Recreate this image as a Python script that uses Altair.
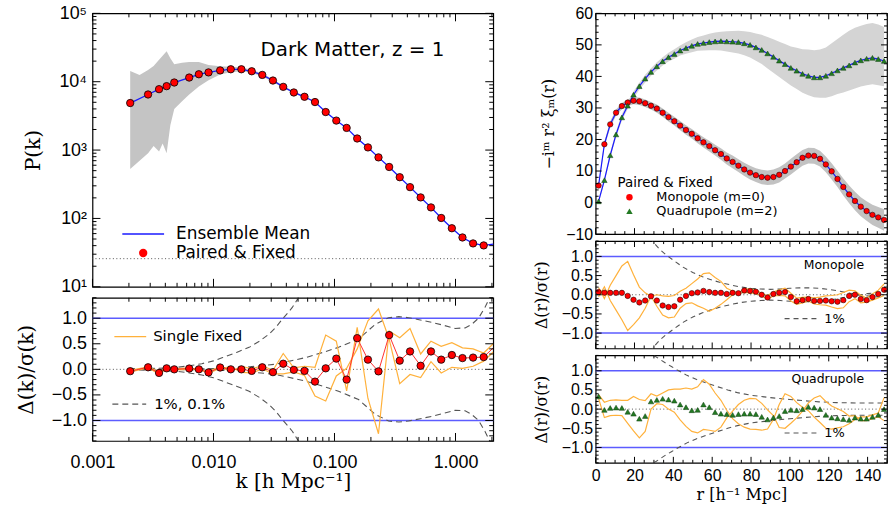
import altair as alt
import pandas as pd

# ===================== DATA =====================
# ---- left: power spectrum P(k) ----
K_PF = [0.00205, 0.00288, 0.00355, 0.0041, 0.00474, 0.0063, 0.00757, 0.0091, 0.01135, 0.0139,
        0.017, 0.0207, 0.0253, 0.031, 0.0377, 0.0461, 0.0565, 0.069, 0.0846, 0.1035,
        0.126, 0.154, 0.189, 0.231, 0.283, 0.346, 0.421, 0.515, 0.627, 0.762,
        0.933, 1.142, 1.397, 1.71]
PK_PF = [4875, 6505, 7780, 8610, 9730, 11500, 12850, 13680, 14620, 15200,
         15200, 14210, 12570, 10400, 8410, 6960, 6020, 5040, 3600, 2700,
         2110, 1478, 1093, 782, 566, 401, 287, 203, 145, 101.6,
         71.9, 52.7, 43.1, 40.3]
K_LINE = [0.00205, 0.00288, 0.00355, 0.0041, 0.00474, 0.0063, 0.00757, 0.0091, 0.01135, 0.0139,
          0.017, 0.0207, 0.0253, 0.031, 0.0377, 0.0461, 0.0565, 0.069, 0.0846, 0.1035,
          0.126, 0.154, 0.189, 0.231, 0.283, 0.346, 0.421, 0.515, 0.627, 0.762,
          0.933, 1.142, 1.397, 1.71, 2.05]
PK_MEAN = [4875, 6505, 7780, 8610, 9730, 11500, 12850, 13680, 14620, 15200,
           15200, 14210, 12570, 10400, 8410, 6960, 6020, 5040, 3600, 2700,
           2110, 1478, 1093, 782, 566, 401, 287, 203, 145, 101.6,
           71.9, 52.7, 43.1, 40.3, 42.0]
K_BAND = [0.00205, 0.00245, 0.00288, 0.0032, 0.00355, 0.0038, 0.0041, 0.0044, 0.00474, 0.0055,
          0.0063, 0.00757, 0.0091, 0.01135, 0.0139, 0.017, 0.0207, 0.0253, 0.031, 0.0377,
          0.0461, 0.0565]
PK_HI = [14300, 12500, 14800, 17000, 21000, 24000, 28000, 22000, 18000, 19000,
         19500, 19500, 17500, 16800, 16500, 16200, 15000, 13200, 10900, 8750,
         7200, 6200]
PK_LO = [530, 700, 900, 1150, 950, 1250, 900, 2300, 4000, 5200,
         6500, 8500, 10500, 12700, 13800, 14200, 13400, 11900, 9900, 8100,
         6720, 5840]
SHOT_NOISE = [25.8]

# ---- left: residuals ----
RES_PF = [-0.036, 0.04, -0.07, 0.02, 0.0, 0.016, 0.0, -0.06, 0.036, 0.0,
          0.0, -0.03, 0.04, -0.055, 0.11, -0.01, -0.03, -0.24, 0.02, 0.21,
          -0.2, 0.61, 0.19, -0.04, 0.67, 0.17, 0.35, 0.07, 0.35, 0.19,
          0.28, 0.22, 0.23, 0.24]
RES_LINE = [-0.036, 0.04, -0.07, 0.02, 0.0, 0.016, 0.0, -0.06, 0.036, 0.0,
            0.0, -0.03, 0.04, -0.055, 0.11, -0.01, -0.03, -0.24, 0.02, 0.21,
            -0.2, 0.61, 0.19, -0.04, 0.67, 0.17, 0.35, 0.07, 0.35, 0.19,
            0.28, 0.22, 0.23, 0.24, 0.42]
SF_A = [-0.02, 0.05, -0.05, 0.03, 0.01, 0.03, -0.03, -0.04, 0.05, -0.05,
        0.06, 0.01, 0.07, -0.02, 0.31, 0.03, 0.06, 0.04, 0.67, 0.55,
        -0.42, 0.82, -0.57, -1.26, 0.75, 0.62, 0.80, 0.30, 0.55, 0.45,
        0.52, 0.42, 0.40, 0.32, 0.50]
SF_B = [-0.05, 0.03, -0.09, 0.01, -0.01, 0.0, 0.03, -0.08, 0.02, 0.05,
        -0.06, -0.07, 0.01, -0.09, -0.09, -0.05, -0.12, -0.52, -0.62, -0.13,
        0.02, 0.40, 0.95, 1.18, 0.59, -0.28, -0.10, -0.16, 0.15, -0.07,
        0.04, 0.02, 0.06, 0.16, 0.34]
D1_K = [0.002, 0.0035, 0.005, 0.0063, 0.008, 0.01, 0.0119, 0.0155, 0.0197, 0.024,
        0.0288, 0.033, 0.037, 0.041, 0.0448, 0.0525, 0.06]
D1_V = [0.01, 0.02, 0.04, 0.07, 0.11, 0.165, 0.23, 0.33, 0.43, 0.55,
        0.69, 0.83, 0.98, 1.1, 1.21, 1.47, 1.7]
D1_VN = [-0.01, -0.02, -0.04, -0.07, -0.11, -0.165, -0.23, -0.33, -0.43, -0.55,
         -0.69, -0.83, -0.98, -1.1, -1.21, -1.47, -1.7]
D01_K = [0.002, 0.005, 0.0105, 0.02, 0.0327, 0.0577, 0.08, 0.108, 0.158, 0.217,
         0.28, 0.34, 0.409, 0.5, 0.636, 0.8, 0.99, 1.2, 1.36, 1.55,
         1.75, 1.98, 2.1]
D01_V = [0.001, 0.004, 0.015, 0.05, 0.10, 0.23, 0.33, 0.43, 0.59, 0.88,
         1.01, 1.03, 1.01, 0.97, 0.92, 0.86, 0.80, 0.81, 0.88, 1.0,
         1.21, 1.47, 1.6]
D01_VN = [-0.001, -0.004, -0.015, -0.05, -0.10, -0.23, -0.33, -0.43, -0.59, -0.88,
          -1.01, -1.03, -1.01, -0.97, -0.92, -0.86, -0.80, -0.81, -0.88, -1.0,
          -1.21, -1.47, -1.6]

# ---- right: correlation function multipoles ----
R = [1.5, 4.5, 7.5, 10.5, 13.5, 16.5, 19.5, 22.5, 25.5, 28.5,
     31.5, 34.5, 37.5, 40.5, 43.5, 46.5, 49.5, 52.5, 55.5, 58.5,
     61.5, 64.5, 67.5, 70.5, 73.5, 76.5, 79.5, 82.5, 85.5, 88.5,
     91.5, 94.5, 97.5, 100.5, 103.5, 106.5, 109.5, 112.5, 115.5, 118.5,
     121.5, 124.5, 127.5, 130.5, 133.5, 136.5, 139.5, 142.5, 145.5, 148.5]
XI0 = [5.4, 18.5, 24.8, 28.5, 30.6, 31.7, 32.3, 32.1, 31.5, 30.7,
       29.8, 28.5, 27.1, 25.8, 24.4, 23.0, 21.8, 20.4, 19.1, 17.9,
       16.6, 15.4, 14.0, 12.9, 11.7, 10.5, 9.5, 8.7, 8.1, 7.9,
       8.1, 8.8, 10.0, 11.4, 12.8, 14.2, 14.9, 14.8, 13.9, 12.1,
       9.9, 7.5, 4.95, 2.6, 0.5, -1.3, -2.7, -3.9, -4.7, -5.5]
XI2 = [0.4, 7.1, 15.0, 21.6, 27.0, 30.7, 34.2, 36.9, 39.3, 41.4,
       43.2, 44.8, 46.1, 47.1, 48.2, 49.0, 49.7, 50.3, 50.6, 50.9,
       51.1, 51.2, 51.1, 51.0, 50.9, 50.5, 50.0, 49.2, 48.4, 47.3,
       46.2, 45.0, 43.9, 42.7, 41.8, 40.8, 40.2, 39.7, 39.7, 40.2,
       41.0, 41.9, 42.7, 43.5, 44.4, 45.1, 45.6, 45.9, 45.5, 44.9]
XI0_SPREAD = [0.7, 0.9, 1.0, 1.0, 1.0, 1.1, 1.1, 1.2, 1.2, 1.2,
              1.3, 1.3, 1.4, 1.4, 1.5, 1.5, 1.5, 1.6, 1.6, 1.7,
              1.7, 1.8, 1.9, 2.0, 2.0, 2.1, 2.2, 2.2, 2.3, 2.3,
              2.4, 2.4, 2.4, 2.5, 2.5, 2.5, 2.5, 2.5, 2.5, 2.5,
              2.6, 2.6, 2.7, 2.8, 2.9, 3.0, 3.1, 3.2, 3.3, 3.4]
XI2_SPREAD_UP = [0.6, 0.8, 0.9, 1.0, 1.0, 1.0, 1.1, 1.1, 1.2, 1.2,
                 1.3, 1.3, 1.4, 1.5, 1.6, 1.8, 2.0, 2.2, 2.4, 2.6,
                 2.8, 3.0, 3.2, 3.4, 3.6, 3.8, 4.1, 4.4, 4.8, 5.2,
                 5.6, 6.0, 6.4, 6.8, 7.3, 7.8, 8.3, 8.6, 8.8, 9.0,
                 9.5, 10.0, 10.5, 11.0, 11.0, 11.0, 11.0, 11.0, 11.0, 10.8]
XI2_SPREAD_DN = [0.6, 0.8, 0.9, 1.0, 1.0, 1.0, 1.1, 1.1, 1.2, 1.2,
                 1.3, 1.3, 1.4, 1.5, 1.6, 1.8, 2.0, 2.2, 2.4, 2.6,
                 2.8, 3.0, 3.2, 3.4, 3.6, 3.8, 4.0, 4.2, 4.5, 4.8,
                 5.0, 5.2, 5.4, 5.6, 5.8, 6.0, 6.2, 6.3, 6.5, 7.0,
                 7.3, 7.5, 7.8, 8.0, 8.2, 8.3, 8.4, 8.4, 8.3, 8.0]
RES0 = [0.07, 0.055, 0.05, 0.05, 0.05, -0.03, -0.13, -0.2, -0.15, -0.04,
        -0.15, -0.28, -0.32, -0.30, -0.13, -0.03, 0.04, 0.06, 0.1, 0.07,
        0.05, 0.05, 0.02, 0.05, 0.04, 0.11, 0.1, 0.08, 0.0, -0.07,
        0.02, 0.055, 0.07, -0.06, -0.17, -0.14, -0.11, -0.16, -0.16, -0.15,
        -0.17, -0.18, -0.14, -0.03, 0.0, -0.11, -0.14, -0.06, 0.02, 0.13]
SF0_A = [0.19, -0.10, 0.25, 0.50, 0.75, 0.87, 0.52, 0.20, 0.05, -0.04,
         -0.30, -0.53, -0.60, -0.58, -0.35, -0.23, -0.21, -0.29, -0.35, -0.43,
         -0.35, -0.25, -0.13, 0.0, 0.04, 0.16, 0.15, 0.13, 0.03, -0.02,
         0.07, 0.13, 0.17, 0.04, -0.09, -0.07, -0.06, -0.08, -0.06, -0.03,
         -0.02, 0.0, 0.06, 0.12, 0.10, -0.01, -0.09, 0.02, 0.12, 0.28]
SF0_B = [-0.05, 0.21, -0.15, -0.40, -0.65, -0.93, -0.78, -0.60, -0.35, -0.04,
         0.0, -0.03, -0.04, -0.02, 0.09, 0.17, 0.29, 0.41, 0.55, 0.57,
         0.45, 0.35, 0.17, 0.10, 0.04, 0.06, 0.05, 0.03, -0.03, -0.12,
         -0.03, -0.02, -0.03, -0.16, -0.25, -0.21, -0.16, -0.24, -0.26, -0.27,
         -0.32, -0.36, -0.34, -0.18, -0.10, -0.21, -0.19, -0.14, -0.08, -0.02]
RES2 = [0.33, -0.02, 0.03, 0.04, 0.03, -0.07, -0.12, -0.25, -0.18, 0.2,
        0.24, 0.27, 0.25, 0.22, 0.12, 0.05, -0.03, -0.02, 0.12, 0.05,
        -0.08, -0.12, -0.13, -0.15, -0.13, -0.12, -0.12, -0.13, -0.2, -0.27,
        -0.22, -0.18, -0.05, -0.02, -0.03, 0.0, 0.06, 0.04, 0.0, -0.15,
        -0.22, -0.24, -0.26, -0.28, -0.22, -0.25, -0.25, -0.2, -0.15, 0.0]
SF2_A = [0.38, 0.18, 0.23, 0.24, 0.23, 0.23, 0.33, 0.25, 0.22, 0.40,
         0.34, 0.42, 0.50, 0.52, 0.52, 0.55, 0.52, 0.58, 0.77, 0.65,
         0.42, 0.23, -0.03, -0.25, -0.38, -0.47, -0.52, -0.53, -0.55, -0.52,
         -0.27, 0.12, 0.40, 0.33, 0.17, 0.05, -0.04, -0.21, -0.35, -0.50,
         -0.52, -0.49, -0.46, -0.38, -0.27, -0.20, -0.20, -0.15, -0.10, 0.30]
SF2_B = [0.28, -0.22, -0.17, -0.16, -0.17, -0.37, -0.57, -0.75, -0.58, 0.0,
         0.14, 0.12, 0.0, -0.08, -0.28, -0.45, -0.58, -0.62, -0.53, -0.55,
         -0.58, -0.47, -0.23, -0.05, 0.12, 0.23, 0.28, 0.27, 0.15, -0.02,
         -0.17, -0.48, -0.50, -0.37, -0.23, -0.05, 0.16, 0.29, 0.35, 0.20,
         0.08, 0.01, -0.06, -0.18, -0.17, -0.30, -0.30, -0.25, -0.20, -0.30]
D0_R = [28, 30, 33, 36, 40, 45, 50, 55, 60, 65, 70, 75, 80, 85, 90, 95, 100, 105,
        110, 115, 120, 125, 130, 135, 140, 145, 150]
D0_V = [1.5, 1.35, 1.18, 1.05, 0.9, 0.72, 0.58, 0.47, 0.38, 0.31, 0.25, 0.2, 0.17, 0.15,
        0.14, 0.15, 0.17, 0.18, 0.18, 0.17, 0.14, 0.1, 0.05, 0.01, -0.03, -0.06, -0.08]
D0_VN = [-1.5, -1.35, -1.18, -1.05, -0.9, -0.72, -0.58, -0.47, -0.38, -0.31, -0.25, -0.2, -0.17, -0.15,
         -0.14, -0.15, -0.17, -0.18, -0.18, -0.17, -0.14, -0.1, -0.05, -0.01, 0.03, 0.06, 0.08]
D2_R = [30, 33, 36, 39, 42, 47, 52, 57.6, 63, 68, 73, 80, 90, 100, 107, 115, 124, 135, 150]
D2_V = [1.4, 1.3, 1.2, 1.11, 1.02, 0.88, 0.77, 0.67, 0.58, 0.5, 0.43, 0.36, 0.30, 0.25,
        0.22, 0.19, 0.17, 0.16, 0.16]
D2_VN = [-1.4, -1.3, -1.2, -1.11, -1.02, -0.88, -0.77, -0.67, -0.58, -0.5, -0.43, -0.36, -0.30, -0.25,
         -0.22, -0.19, -0.17, -0.16, -0.16]
UNIT_LINES = [1.0, -1.0]
ZERO_LINE = [0.0]

# tick positions
LOGK_MAJ = [0.001, 0.01, 0.1, 1.0]
LOGK_MIN = [m * 10.0 ** e for e in (-3, -2, -1) for m in range(2, 10)] + [2.0]
LOGP_MAJ = [10, 100, 1000, 10000, 100000]
LOGP_MIN = [m * 10 ** e for e in (1, 2, 3, 4) for m in range(2, 10)]
RES_MAJ = [-1.0, -0.5, 0.0, 0.5, 1.0]
RES_MIN = [v / 10 for v in range(-14, 15) if v % 5 != 0]
R_MAJ = list(range(0, 141, 20))
R_MIN = [v for v in range(5, 151, 5) if v % 20 != 0]
XI_MAJ = list(range(-10, 61, 10))
XI_MIN = [v for v in range(-10, 61, 2) if v % 10 != 0]

# ===================== STYLE =====================
SANS = "Liberation Sans"
LEG = "DejaVu Sans"
SERIF = "DejaVu Serif"
BLUE = "#1a1aff"
LBLUE = "#5c5cff"
RED = "#ff0000"
ORANGE = "#ffb13b"
DASH = "#555555"
GREEN = "#237a23"


def one():
    return pd.DataFrame({"o": [0]})


def txt(x, y, s, size, align="left", font=LEG):
    return alt.Chart(one()).mark_text(
        text=s, align=align, baseline="middle", font=font, fontSize=size, color="black"
    ).encode(x=alt.value(x), y=alt.value(y))


def seg(x1, x2, y, color, dash=None, width=1.3):
    kw = dict(color=color, strokeWidth=width)
    if dash:
        kw["strokeDash"] = dash
    return alt.Chart(one()).mark_rule(**kw).encode(x=alt.value(x1), x2=alt.value(x2), y=alt.value(y))


def sym(x, y, shape, color, size):
    return alt.Chart(one()).mark_point(shape=shape, filled=True, color=color, size=size, opacity=1).encode(
        x=alt.value(x), y=alt.value(y))


def yaxis(title, values, fmt=None, expr=None, left=True, tpad=None):
    kw = dict(values=values, title=title, titleFont=SERIF, titleFontWeight="normal",
              titleColor="black", labelColor="black", labelFont=SANS,
              ticks=False, domain=False, grid=False, labelOverlap=False)
    if left:
        kw.update(titleFontSize=20, labelFontSize=18, labelPadding=6,
                  minExtent=40, maxExtent=40, titlePadding=9)
    else:
        kw.update(titleFontSize=16, labelFontSize=16, labelPadding=3,
                  minExtent=33, maxExtent=33, titlePadding=9)
    if tpad is not None:
        kw["titlePadding"] = tpad
    if fmt:
        kw["format"] = fmt
    if expr:
        kw["labelExpr"] = expr
    return alt.Axis(**kw)


def xaxis(title, values, fmt, left=True):
    kw = dict(values=values, format=fmt, title=title, titleFont=SERIF, titleFontWeight="normal",
              titleColor="black", labelColor="black", labelFont=SANS, ticks=False, domain=False,
              grid=False, labelFlush=False, labelOverlap=False)
    if left:
        kw.update(titleFontSize=20, labelFontSize=18, labelPadding=13, titlePadding=0)
    else:
        kw.update(titleFontSize=16, labelFontSize=16, labelPadding=5, titlePadding=3)
    return alt.Axis(**kw)


class Panel:
    """Holds the scales/axes of one panel so every layer shares identical definitions."""

    def __init__(self, xf, yf, xsc, ysc, xax, yax):
        self.xf, self.yf, self.xsc, self.ysc, self.xax, self.yax = xf, yf, xsc, ysc, xax, yax

    def X(self, field=None):
        return alt.X(f"{field or self.xf}:Q", scale=self.xsc, axis=self.xax)

    def Y(self, field=None):
        return alt.Y(f"{field or self.yf}:Q", scale=self.ysc, axis=self.yax)

    def line(self, xs, ys, color, width=1.2, dash=None, clip=True):
        kw = dict(color=color, strokeWidth=width, clip=clip)
        if dash:
            kw["strokeDash"] = dash
        d = pd.DataFrame({self.xf: xs, self.yf: ys})
        return alt.Chart(d).mark_line(**kw).encode(x=self.X(), y=self.Y())

    def points(self, xs, ys, shape, color, stroke, sw, size):
        d = pd.DataFrame({self.xf: xs, self.yf: ys})
        return alt.Chart(d).mark_point(shape=shape, filled=True, color=color, stroke=stroke,
                                       strokeWidth=sw, size=size, opacity=1).encode(
            x=self.X(), y=self.Y())

    def hrule(self, vals, color, width=1.0, dash=None):
        kw = dict(color=color, strokeWidth=width)
        if dash:
            kw["strokeDash"] = dash
        d = pd.DataFrame({self.yf: vals})
        return alt.Chart(d).mark_rule(**kw).encode(y=self.Y())

    def ticks(self, xmaj, xmin, ymaj, ymin, W, H, LM, Lm):
        out = []
        for vals, L in ((xmaj, LM), (xmin, Lm)):
            d = pd.DataFrame({self.xf: vals})
            out.append(alt.Chart(d).mark_rule(color="black", strokeWidth=1).encode(
                x=self.X(), y=alt.value(H), y2=alt.value(H - L)))
            out.append(alt.Chart(d).mark_rule(color="black", strokeWidth=1).encode(
                x=self.X(), y=alt.value(0), y2=alt.value(L)))
        for vals, L in ((ymaj, LM), (ymin, Lm)):
            d = pd.DataFrame({self.yf: vals})
            out.append(alt.Chart(d).mark_rule(color="black", strokeWidth=1).encode(
                y=self.Y(), x=alt.value(0), x2=alt.value(L)))
            out.append(alt.Chart(d).mark_rule(color="black", strokeWidth=1).encode(
                y=self.Y(), x=alt.value(W), x2=alt.value(W - L)))
        return out


# ===================== LEFT TOP =====================
WL, HLT, HLB = 403, 275, 144
xk = alt.Scale(type="log", domain=[0.001, 2.05], nice=False)
yP = alt.Scale(type="log", domain=[10, 100000], nice=False)
yR = alt.Scale(domain=[-1.4, 1.4], nice=False, zero=False)

sup = ("datum.value == 10 ? '10\u00b9' : datum.value == 100 ? '10\u00b2' : "
       "datum.value == 1000 ? '10\u00b3' : datum.value == 10000 ? '10\u2074' : '10\u2075'")

LT = Panel("k", "P", xk, yP, None, yaxis("P(k)", LOGP_MAJ, expr=sup, tpad=9))
band = alt.Chart(pd.DataFrame({"k": K_BAND, "P": PK_HI, "P2": PK_LO})).mark_area(
    color="#c4c4c4", opacity=1).encode(x=LT.X(), y=LT.Y(), y2="P2:Q")

lt = alt.layer(
    band,
    LT.hrule(SHOT_NOISE, DASH, 1, [1, 2.5]),
    LT.line(K_LINE, PK_MEAN, BLUE, 1.3, clip=False),
    LT.points(K_PF, PK_PF, "circle", RED, "black", 0.8, 55),
    *LT.ticks(LOGK_MAJ, LOGK_MIN, LOGP_MAJ, LOGP_MIN, WL, HLT, 8, 4),
    seg(30, 72, 222, BLUE, width=1.5), txt(84, 222, "Ensemble Mean", 17),
    sym(51, 241, "circle", RED, 70), txt(84, 241, "Paired & Fixed", 17),
    txt(169, 37, "Dark Matter, z = 1", 20),
).properties(width=WL, height=HLT)

# ===================== LEFT BOTTOM =====================
LB = Panel("k", "v", xk, yR, xaxis("k [h Mpc\u207b\u00b9]", LOGK_MAJ, ".3f"),
           yaxis("\u0394(k)/\u03c3(k)", RES_MAJ, fmt=".1f", tpad=16))
lb = alt.layer(
    LB.hrule(UNIT_LINES, LBLUE, 1.5),
    LB.hrule(ZERO_LINE, DASH, 1, [1, 2.5]),
    LB.line(D1_K, D1_V, DASH, 1.1, dash=[6, 4]),
    LB.line(D1_K, D1_VN, DASH, 1.1, dash=[6, 4]),
    LB.line(D01_K, D01_V, DASH, 1.1, dash=[6, 4]),
    LB.line(D01_K, D01_VN, DASH, 1.1, dash=[6, 4]),
    LB.line(K_LINE, SF_A, ORANGE, 1.2),
    LB.line(K_LINE, SF_B, ORANGE, 1.2),
    LB.line(K_LINE, RES_LINE, "#ff3030", 1.0),
    LB.points(K_PF, RES_PF, "circle", RED, "black", 0.8, 55),
    *LB.ticks(LOGK_MAJ, LOGK_MIN, RES_MAJ, RES_MIN, WL, HLB, 8, 4),
    seg(22, 54, 39, ORANGE, width=1.3), txt(61, 39, "Single Fixed", 15),
    seg(20, 54, 107, DASH, dash=[6, 4], width=1.1), txt(62, 107, "1%, 0.1%", 15),
).properties(width=WL, height=HLB)

# ===================== RIGHT TOP =====================
WR, HRT, HRR = 293, 222, 108
xr = alt.Scale(domain=[0, 150], nice=False, zero=False)
yxi = alt.Scale(domain=[-10, 60], nice=False, zero=False)

RT = Panel("r", "xi", xr, yxi, None,
           yaxis("\u2212i\u1d50 r\u00b2 \u03be\u2098(r)", XI_MAJ, fmt="d", left=False, tpad=6))
df_xi = pd.DataFrame({"r": R, "xi0": XI0, "xi2": XI2, "s0": XI0_SPREAD,
                      "s2u": XI2_SPREAD_UP, "s2d": XI2_SPREAD_DN})
df_xi["m_hi"] = df_xi["xi0"] + df_xi["s0"]
df_xi["m_lo"] = df_xi["xi0"] - df_xi["s0"]
df_xi["q_hi"] = df_xi["xi2"] + df_xi["s2u"]
df_xi["q_lo"] = df_xi["xi2"] - df_xi["s2d"]
band_q = alt.Chart(df_xi).mark_area(color="#d4d4d4", opacity=1).encode(
    x=RT.X(), y=RT.Y("q_hi"), y2="q_lo:Q")
band_m = alt.Chart(df_xi).mark_area(color="#c2c2c2", opacity=1).encode(
    x=RT.X(), y=RT.Y("m_hi"), y2="m_lo:Q")

rt = alt.layer(
    band_q, band_m,
    RT.line(R, XI0, BLUE, 1.2), RT.line(R, XI2, BLUE, 1.2),
    RT.points(R, XI0, "circle", RED, "black", 0.5, 30),
    RT.points(R, XI2, "triangle-up", GREEN, "#0f3f0f", 0.5, 30),
    *RT.ticks(R_MAJ, R_MIN, XI_MAJ, XI_MIN, WR, HRT, 6, 3),
    txt(22, 171, "Paired & Fixed", 13.5),
    sym(34, 185, "circle", RED, 42), txt(61, 185, "Monopole (m=0)", 13),
    sym(34, 199, "triangle-up", GREEN, 42), txt(61, 199, "Quadrupole (m=2)", 13),
).properties(width=WR, height=HRT)


# ===================== RIGHT RESIDUALS =====================
def resid_panel(res, sfa_v, sfb_v, dr, dv, dvn, shape, color, stroke, label, with_x):
    xa = xaxis("r [h\u207b\u00b9 Mpc]", R_MAJ, "d", left=False) if with_x else None
    P = Panel("r", "v", xr, yR, xa,
              yaxis("\u0394(r)/\u03c3(r)", RES_MAJ, fmt=".1f", left=False, tpad=13))
    return alt.layer(
        P.hrule(UNIT_LINES, LBLUE, 1.5),
        P.hrule(ZERO_LINE, DASH, 1, [1, 2.5]),
        P.line(dr, dv, DASH, 1.1, dash=[5, 4]),
        P.line(dr, dvn, DASH, 1.1, dash=[5, 4]),
        P.line(R, sfa_v, ORANGE, 1.2),
        P.line(R, sfb_v, ORANGE, 1.2),
        P.points(R, res, shape, color, stroke, 0.5, 30),
        *P.ticks(R_MAJ, R_MIN, RES_MAJ, RES_MIN, WR, HRR, 6, 3),
        txt(270, 24, label, 12.5, align="right"),
        seg(190, 222, 78, DASH, dash=[5, 4], width=1.1), txt(230, 78, "1%", 13),
    ).properties(width=WR, height=HRR)


rm = resid_panel(RES0, SF0_A, SF0_B, D0_R, D0_V, D0_VN, "circle", RED, "black", "Monopole", False)
rb = resid_panel(RES2, SF2_A, SF2_B, D2_R, D2_V, D2_VN, "triangle-up", GREEN, "#0f3f0f",
                 "Quadrupole", True)

left = alt.vconcat(lt, lb, spacing=11, bounds="flush")
right = alt.vconcat(rt, rm, rb, spacing=7, bounds="flush")
chart = alt.hconcat(left, right, spacing=36).properties(
    padding={"left": 16, "top": 2, "right": 0, "bottom": 0}
).configure_view(stroke="black", strokeWidth=1.2)

chart.save("out.html", embed_options={"renderer": "svg", "actions": False})
